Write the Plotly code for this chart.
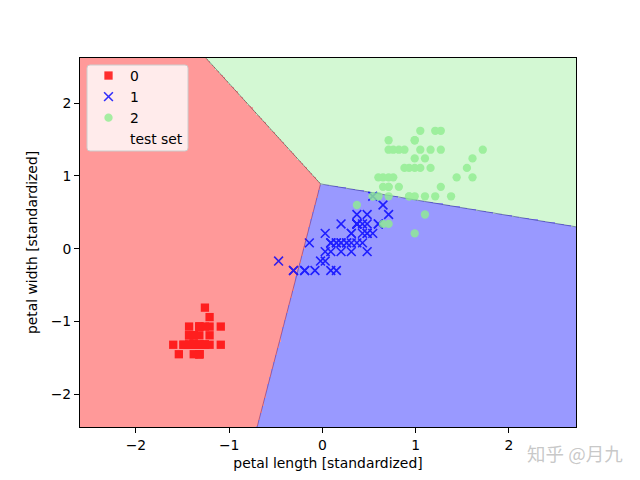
import numpy as np
import plotly.graph_objects as go

# ---------------- data (standardized petal length / width) ----------------
class_labels = ["0", "1", "2"]

x0 = [-1.38, -1.38, -1.43, -1.32, -1.38, -1.21, -1.38, -1.32, -1.38, -1.32,
      -1.32, -1.26, -1.38, -1.54, -1.49, -1.32, -1.43, -1.38, -1.21, -1.32,
      -1.21, -1.32, -1.60, -1.21, -1.09, -1.26, -1.26, -1.32, -1.38, -1.26,
      -1.26, -1.32, -1.32, -1.38, -1.32, -1.49, -1.43, -1.32, -1.43, -1.32,
      -1.43, -1.43, -1.43, -1.26, -1.09, -1.38, -1.26, -1.38, -1.32, -1.38]
y0 = [-1.32, -1.32, -1.32, -1.32, -1.32, -1.07, -1.19, -1.32, -1.32, -1.45,
      -1.32, -1.32, -1.45, -1.45, -1.32, -1.07, -1.07, -1.19, -1.19, -1.19,
      -1.32, -1.07, -1.32, -0.94, -1.32, -1.32, -1.07, -1.32, -1.32, -1.32,
      -1.32, -1.07, -1.45, -1.32, -1.45, -1.32, -1.32, -1.45, -1.32, -1.32,
      -1.19, -1.19, -1.32, -0.81, -1.07, -1.19, -1.32, -1.32, -1.32, -1.32]

x1 = [0.48, 0.37, 0.60, 0.09, 0.43, 0.37, 0.48, -0.31, 0.43, 0.03,
      -0.19, 0.20, 0.09, 0.48, -0.14, 0.31, 0.37, 0.15, 0.37, 0.03,
      0.54, 0.09, 0.60, 0.48, 0.26, 0.31, 0.54, 0.65, 0.37, -0.19,
      -0.02, -0.08, 0.03, 0.71, 0.37, 0.37, 0.48, 0.31, 0.15, 0.09,
      0.31, 0.43, 0.09, -0.31, 0.20, 0.20, 0.20, 0.26, -0.47, 0.15]
y1 = [0.21, 0.34, 0.34, 0.08, 0.34, 0.08, 0.47, -0.30, 0.08, 0.21,
      -0.30, 0.34, -0.30, 0.21, 0.08, 0.21, 0.34, -0.30, 0.34, -0.17,
      0.72, 0.08, 0.34, -0.04, 0.08, 0.21, 0.21, 0.60, 0.34, -0.30,
      -0.17, -0.30, -0.04, 0.47, 0.34, 0.47, 0.34, 0.08, 0.08, 0.08,
      -0.04, 0.21, -0.04, -0.30, 0.08, -0.04, 0.08, 0.08, -0.17, 0.08]

x2 = [1.21, 0.71, 1.16, 0.99, 1.10, 1.55, 0.37, 1.38, 1.10, 1.27,
      0.71, 0.82, 0.93, 0.65, 0.71, 0.82, 0.93, 1.61, 1.72, 0.65,
      1.05, 0.60, 1.61, 0.60, 1.05, 1.21, 0.54, 0.60, 0.99, 1.10,
      1.27, 1.44, 0.99, 0.71, 0.99, 1.27, 0.99, 0.93, 0.54, 0.88,
      0.99, 0.71, 0.71, 1.16, 1.05, 0.76, 0.65, 0.76, 0.88, 0.71]
y2 = [1.62, 0.85, 1.11, 0.72, 1.24, 1.11, 0.60, 0.72, 0.72, 1.62,
      0.98, 0.85, 1.11, 0.98, 1.49, 1.36, 0.72, 1.24, 1.36, 0.34,
      1.36, 0.98, 0.98, 0.72, 1.11, 0.72, 0.72, 0.72, 1.11, 0.47,
      0.85, 0.98, 1.24, 0.34, 0.21, 1.36, 1.49, 0.72, 0.72, 1.11,
      1.49, 1.36, 0.85, 1.36, 1.62, 1.36, 0.85, 0.98, 1.36, 0.72]

# decision-region geometry (junction and boundary end points)
junction = (-0.02, 0.89)
end_red_green = (-1.25, 2.62)
end_red_blue = (-0.70, -2.45)
end_blue_green = (2.72, 0.30)

x_range = [-2.60, 2.72]
y_range = [-2.45, 2.62]
x_ticks = [-2, -1, 0, 1, 2]
y_ticks = [-2, -1, 0, 1, 2]

# ---------------- decision regions ----------------
res = 0.02
gx = np.arange(x_range[0], x_range[1] + res, res)
gy = np.arange(y_range[0], y_range[1] + res, res)
XX, YY = np.meshgrid(gx, gy)
DX = XX - junction[0]
DY = YY - junction[1]


def ray(p):
    return (p[0] - junction[0], p[1] - junction[1])


def cross_ray_pt(a, dx, dy):
    return a[0] * dy - a[1] * dx


r_rg, r_rb, r_gb = ray(end_red_green), ray(end_red_blue), ray(end_blue_green)
Z = np.ones_like(XX)  # blue by default
green = (cross_ray_pt(r_gb, DX, DY) >= 0) & (-cross_ray_pt(r_rg, DX, DY) > 0)
red = (cross_ray_pt(r_rg, DX, DY) >= 0) & (-cross_ray_pt(r_rb, DX, DY) > 0)
Z[green] = 2
Z[red] = 0

c_red, c_blue, c_green = "#FF9999", "#9999FF", "#D3F8D3"
colorscale = [[0, c_red], [1 / 3, c_red], [1 / 3, c_blue], [2 / 3, c_blue],
              [2 / 3, c_green], [1, c_green]]

fig = go.Figure()
fig.add_trace(go.Heatmap(x=gx, y=gy, z=Z, zmin=-0.5, zmax=2.5, colorscale=colorscale,
                         showscale=False, hoverinfo="skip"))

for end, col in [(end_red_green, "rgba(60,60,60,0.7)"),
                 (end_red_blue, "rgba(120,40,110,0.7)"),
                 (end_blue_green, "rgba(40,40,140,0.7)")]:
    fig.add_trace(go.Scatter(x=[junction[0], end[0]], y=[junction[1], end[1]],
                             mode="lines", line=dict(color=col, width=0.8),
                             showlegend=False, hoverinfo="skip"))

ms = 8.3
fig.add_trace(go.Scatter(x=x0, y=y0, mode="markers", name=class_labels[0], opacity=0.8,
                         marker=dict(symbol="square", size=ms, color="red", line=dict(width=0))))
fig.add_trace(go.Scatter(x=x1, y=y1, mode="markers", name=class_labels[1], opacity=0.8,
                         marker=dict(symbol="x-thin", size=8.8, color="blue",
                                     line=dict(width=1.6, color="blue"))))
fig.add_trace(go.Scatter(x=x2, y=y2, mode="markers", name=class_labels[2], opacity=0.8,
                         marker=dict(symbol="circle", size=ms, color="lightgreen", line=dict(width=0))))
fig.add_trace(go.Scatter(x=[None], y=[None], mode="markers", name="test set",
                         marker=dict(symbol="circle", size=ms, color="rgba(0,0,0,0)",
                                     line=dict(width=0))))

font_size = 13.9
axis_common = dict(showline=True, mirror=True, linecolor="black", linewidth=1,
                   ticks="outside", ticklen=5, tickwidth=1, tickcolor="black",
                   showgrid=False, zeroline=False, tickfont=dict(size=font_size, color="black"))

# legend frame (paper coordinates from the plot-area pixel box 80..576 x 58..427)
W_PLOT, H_PLOT = 496.0, 369.0


def px(xp):
    return (xp - 80) / W_PLOT


def py(yp):
    return 1 - (yp - 58) / H_PLOT


lx0, lx1, ly0, ly1, rr = 87, 188, 65, 151, 3
legend_path = (
    f"M {px(lx0 + rr)},{py(ly0)} L {px(lx1 - rr)},{py(ly0)} "
    f"Q {px(lx1)},{py(ly0)} {px(lx1)},{py(ly0 + rr)} "
    f"L {px(lx1)},{py(ly1 - rr)} Q {px(lx1)},{py(ly1)} {px(lx1 - rr)},{py(ly1)} "
    f"L {px(lx0 + rr)},{py(ly1)} Q {px(lx0)},{py(ly1)} {px(lx0)},{py(ly1 - rr)} "
    f"L {px(lx0)},{py(ly0 + rr)} Q {px(lx0)},{py(ly0)} {px(lx0 + rr)},{py(ly0)} Z"
)

fig.update_layout(
    width=640, height=480,
    margin=dict(l=80, r=64, t=58, b=53),
    paper_bgcolor="white", plot_bgcolor="white",
    font=dict(family="DejaVu Sans", size=font_size, color="black"),
    xaxis=dict(range=x_range, tickvals=x_ticks, **axis_common,
               title=dict(text="petal length [standardized]", standoff=6,
                          font=dict(size=font_size))),
    yaxis=dict(range=y_range, tickvals=y_ticks, **axis_common,
               title=dict(text="petal width [standardized]", standoff=9,
                          font=dict(size=font_size))),
    legend=dict(x=px(87), y=py(60), xanchor="left", yanchor="top",
                bgcolor="rgba(0,0,0,0)", borderwidth=0,
                font=dict(size=font_size), itemwidth=33),
    shapes=[dict(type="path", path=legend_path, xref="paper", yref="paper",
                 fillcolor="rgba(255,255,255,0.8)", line=dict(color="#cccccc", width=1),
                 layer="above")],
    annotations=[dict(text="知乎 @月九", x=px(575), y=py(453), xref="paper", yref="paper",
                      xanchor="center", yanchor="middle", showarrow=False,
                      font=dict(family="Noto Sans CJK SC", size=18.5,
                                color="rgba(190,190,190,0.85)"))],
)

fig.write_html("out.html")
